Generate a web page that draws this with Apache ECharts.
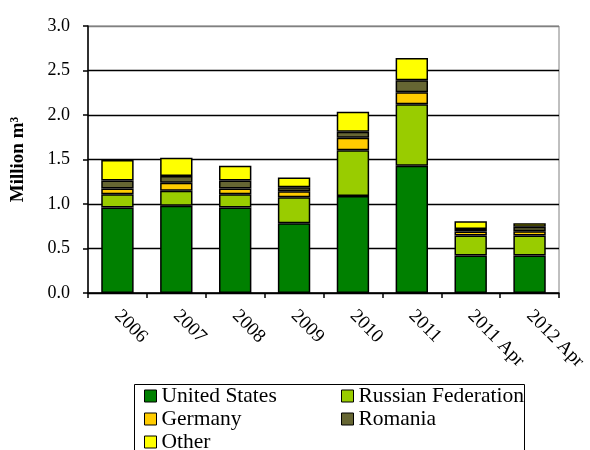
<!DOCTYPE html>
<html>
<head>
<meta charset="utf-8">
<script src="https://cdn.jsdelivr.net/npm/echarts@6/dist/echarts.min.js"></script>
<style>html,body{margin:0;padding:0;background:#fff}#c{width:590px;height:450px}</style>
</head>
<body>
<div id="c"></div>
<script>
var categories = ['2006', '2007', '2008', '2009', '2010', '2011', '2011 Apr', '2012 Apr'];
var unitedStates = [0.96, 0.98, 0.96, 0.785, 1.09, 1.43, 0.42, 0.42];
var russianFederation = [0.15, 0.17, 0.15, 0.29, 0.515, 0.69, 0.225, 0.225];
var germany = [0.065, 0.09, 0.065, 0.067, 0.14, 0.135, 0.045, 0.05];
var romania = [0.09, 0.075, 0.09, 0.045, 0.067, 0.135, 0.03, 0.05];
var other = [0.23, 0.205, 0.165, 0.11, 0.224, 0.25, 0.085, 0.04];
var yTicks = ['0.0', '0.5', '1.0', '1.5', '2.0', '2.5', '3.0'];

var FONT = 'Liberation Serif';
var chart = echarts.init(document.getElementById('c'));
function ser(name, data, color) {
  return {
    name: name, type: 'bar', stack: 'all', data: data, barWidth: '55%',
    itemStyle: { color: color, borderColor: '#000', borderWidth: 1.5 }
  };
}
var legendCommon = {
  orient: 'vertical', itemWidth: 12, itemHeight: 12, itemGap: 1,
  padding: 0, height: 120, icon: 'rect',
  itemStyle: { borderColor: '#000', borderWidth: 1 },
  textStyle: { fontFamily: FONT, fontSize: 21.5, lineHeight: 22, color: '#000' }
};
chart.setOption({
  animation: false,
  grid: { left: 88, right: 31, top: 26, bottom: 157, show: true, borderColor: '#808080', borderWidth: 1 },
  legend: [
    Object.assign({ left: 144, top: 385, data: ['United States', 'Germany', 'Other'] }, legendCommon),
    Object.assign({ left: 341, top: 385, data: ['Russian Federation', 'Romania'] }, legendCommon)
  ],
  graphic: [{
    type: 'rect', shape: { x: 134.5, y: 384.5, width: 390, height: 80 },
    style: { fill: 'none', stroke: '#000', lineWidth: 1 }, z: 100
  }],
  xAxis: {
    type: 'category', data: categories,
    axisLine: { lineStyle: { color: '#000', width: 1.5 } },
    axisTick: { show: true, length: 5, alignWithLabel: false, lineStyle: { color: '#000', width: 1.5 } },
    axisLabel: { rotate: -45, fontFamily: FONT, fontSize: 19, color: '#000', margin: 20, interval: 0 }
  },
  yAxis: {
    type: 'value', min: 0, max: 3, interval: 0.5,
    name: 'Million m\u00b3', nameLocation: 'middle', nameGap: 60, nameRotate: 90,
    nameTextStyle: { fontFamily: FONT, fontSize: 19, fontWeight: 'bold', color: '#000' },
    axisLine: { show: true, lineStyle: { color: '#000', width: 1.5 } },
    axisTick: { show: true, inside: false, length: 5, lineStyle: { color: '#000', width: 1.5 } },
    axisLabel: {
      fontFamily: FONT, fontSize: 18, color: '#000', margin: 18,
      formatter: function (v) { return yTicks[Math.round(v / 0.5)]; }
    },
    splitLine: { show: true, lineStyle: { color: ['#000', '#000', '#000', '#000', '#000', '#000', '#808080'], width: 1.3 } }
  },
  series: [
    ser('United States', unitedStates, '#008000'),
    ser('Russian Federation', russianFederation, '#99CC00'),
    ser('Germany', germany, '#FFCC00'),
    ser('Romania', romania, '#666633'),
    ser('Other', other, '#FFFF00')
  ]
});
</script>
</body>
</html>
